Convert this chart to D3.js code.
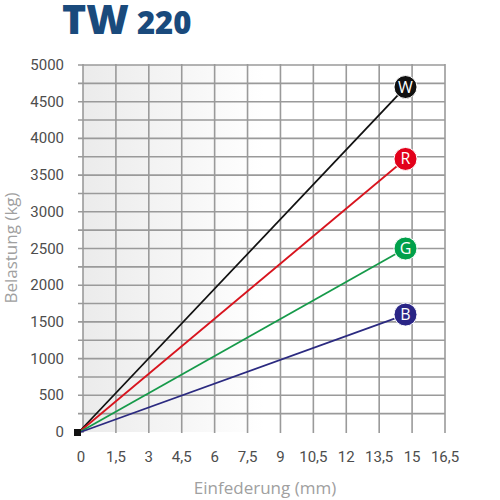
<!DOCTYPE html>
<html>
<head>
<meta charset="utf-8">
<script src="https://cdn.jsdelivr.net/npm/d3@7"></script>
<style>
  body { margin: 0; background: #fff; }
</style>
</head>
<body>
<div id="chart"></div>
<script>
// data
const series = ['W', 'R', 'G', 'B'];
const endDeflection = [14.7, 14.7, 14.7, 14.7];   // mm
const endLoad = [4700, 3720, 2500, 1600];          // kg
const lineColors = ['#111111', '#d8141e', '#169a4a', '#2b2a80'];
const dotColors = ['#111111', '#e2001a', '#00a04a', '#2a2586'];

const xTicks = [0, 1.5, 3, 4.5, 6, 7.5, 9, 10.5, 12, 13.5, 15, 16.5];
const yTicks = [0, 500, 1000, 1500, 2000, 2500, 3000, 3500, 4000, 4500, 5000];
const yGrid = d3.range(250, 5001, 250);

const w = 500, h = 500;

const x = d3.scaleLinear().domain([0, 16.5]).range([83, 445]);
const y = d3.scaleLinear().domain([0, 5000]).range([432, 65]);

const svg = d3.select('#chart')
  .append('svg')
  .attr('width', w)
  .attr('height', h);

// light grey wash on the left
const grad = svg.append('defs').append('linearGradient')
  .attr('id', 'wash').attr('x1', 0).attr('x2', 1).attr('y1', 0).attr('y2', 0);
grad.append('stop').attr('offset', '0%').attr('stop-color', '#ebebeb');
grad.append('stop').attr('offset', '50%').attr('stop-color', '#ffffff');

svg.append('rect')
  .attr('x', x(0)).attr('y', y(5000))
  .attr('width', x(16.5) - x(0)).attr('height', y(0) - y(5000))
  .attr('fill', 'url(#wash)');

// title
const title = svg.append('text')
  .attr('x', 62).attr('y', 34)
  .attr('fill', '#1a4a7c')
  .style('font-family', '"Open Sans", sans-serif')
  .style('font-weight', 800);
title.append('tspan').text('TW').style('font-size', '41px');
title.append('tspan').text(' 220').style('font-size', '31px');

// grid
svg.selectAll('line.h')
  .data(yGrid)
  .enter()
  .append('line')
  .attr('class', 'h')
  .attr('x1', x(0) - 5).attr('x2', x(16.5))
  .attr('y1', d => y(d)).attr('y2', d => y(d))
  .attr('stroke', '#9a9a9a').attr('stroke-width', 1.6);

svg.selectAll('line.v')
  .data(xTicks)
  .enter()
  .append('line')
  .attr('class', 'v')
  .attr('x1', d => x(d)).attr('x2', d => x(d))
  .attr('y1', y(5000) - 1).attr('y2', y(0) + 1)
  .attr('stroke', '#9a9a9a').attr('stroke-width', 1.6);

// tick labels
svg.selectAll('text.yl')
  .data(yTicks)
  .enter()
  .append('text')
  .attr('class', 'yl')
  .text(d => d)
  .attr('x', 64)
  .attr('y', d => y(d) + 5)
  .attr('text-anchor', 'end')
  .attr('fill', '#4d4d4d')
  .style('font-family', 'Roboto, sans-serif')
  .style('font-size', '15px');

svg.selectAll('text.xl')
  .data(xTicks)
  .enter()
  .append('text')
  .attr('class', 'xl')
  .text(d => String(d).replace('.', ','))
  .attr('x', d => x(d) - (d === 0 ? 2 : 0))
  .attr('y', 462)
  .attr('text-anchor', 'middle')
  .attr('fill', '#4d4d4d')
  .style('font-family', 'Roboto, sans-serif')
  .style('font-size', '15px');

// axis titles
svg.append('text')
  .text('Einfederung (mm)')
  .attr('x', 265).attr('y', 494)
  .attr('text-anchor', 'middle')
  .attr('fill', '#a0a0a0')
  .style('font-family', '"Open Sans", sans-serif')
  .style('font-size', '17px');

svg.append('text')
  .text('Belastung (kg)')
  .attr('transform', 'translate(17,248) rotate(-90)')
  .attr('text-anchor', 'middle')
  .attr('fill', '#a0a0a0')
  .style('font-family', '"Open Sans", sans-serif')
  .style('font-size', '17px');

// lines
svg.selectAll('line.s')
  .data(series)
  .enter()
  .append('line')
  .attr('class', 's')
  .attr('x1', x(0) - 5).attr('y1', y(0) + 1)
  .attr('x2', (d, i) => x(endDeflection[i]))
  .attr('y2', (d, i) => y(endLoad[i]))
  .attr('stroke', (d, i) => lineColors[i])
  .attr('stroke-width', 1.8);

// origin marker
svg.append('rect')
  .attr('x', x(0) - 9).attr('y', y(0) - 3)
  .attr('width', 7).attr('height', 7)
  .attr('fill', '#111');

// end badges
const badge = svg.selectAll('g.badge')
  .data(series)
  .enter()
  .append('g')
  .attr('class', 'badge')
  .attr('transform', (d, i) => `translate(${x(endDeflection[i])},${y(endLoad[i])})`);

badge.append('circle')
  .attr('r', 11.5)
  .attr('fill', (d, i) => dotColors[i])
  .attr('stroke', '#fff')
  .attr('stroke-width', 1);

badge.append('text')
  .text(d => d)
  .attr('y', 5.5)
  .attr('text-anchor', 'middle')
  .attr('fill', '#fff')
  .style('font-family', '"Open Sans", sans-serif')
  .style('font-size', '16px');
</script>
</body>
</html>
